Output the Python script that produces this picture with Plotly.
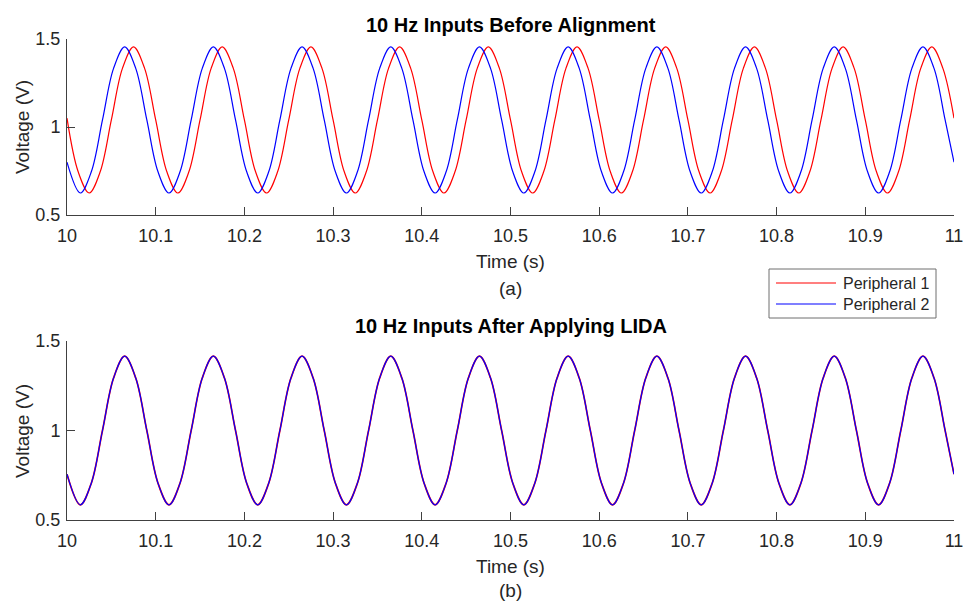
import plotly.graph_objects as go

# ---------------- data ----------------
series_names = ["Peripheral 1", "Peripheral 2"]

# (a) before alignment, Peripheral 1 (red)
t_a_p1 = [10.0000,
          10.0125, 10.0250, 10.0375, 10.0500, 10.0625, 10.0750, 10.0875, 10.1000,
          10.1125, 10.1250, 10.1375, 10.1500, 10.1625, 10.1750, 10.1875, 10.2000,
          10.2125, 10.2250, 10.2375, 10.2500, 10.2625, 10.2750, 10.2875, 10.3000,
          10.3125, 10.3250, 10.3375, 10.3500, 10.3625, 10.3750, 10.3875, 10.4000,
          10.4125, 10.4250, 10.4375, 10.4500, 10.4625, 10.4750, 10.4875, 10.5000,
          10.5125, 10.5250, 10.5375, 10.5500, 10.5625, 10.5750, 10.5875, 10.6000,
          10.6125, 10.6250, 10.6375, 10.6500, 10.6625, 10.6750, 10.6875, 10.7000,
          10.7125, 10.7250, 10.7375, 10.7500, 10.7625, 10.7750, 10.7875, 10.8000,
          10.8125, 10.8250, 10.8375, 10.8500, 10.8625, 10.8750, 10.8875, 10.9000,
          10.9125, 10.9250, 10.9375, 10.9500, 10.9625, 10.9750, 10.9875, 11.0000]
v_a_p1 = [1.05,
          0.747, 0.625, 0.747, 1.04, 1.333, 1.455, 1.333, 1.04,
          0.747, 0.625, 0.747, 1.04, 1.333, 1.455, 1.333, 1.04,
          0.747, 0.625, 0.747, 1.04, 1.333, 1.455, 1.333, 1.04,
          0.747, 0.625, 0.747, 1.04, 1.333, 1.455, 1.333, 1.04,
          0.747, 0.625, 0.747, 1.04, 1.333, 1.455, 1.333, 1.04,
          0.747, 0.625, 0.747, 1.04, 1.333, 1.455, 1.333, 1.04,
          0.747, 0.625, 0.747, 1.04, 1.333, 1.455, 1.333, 1.04,
          0.747, 0.625, 0.747, 1.04, 1.333, 1.455, 1.333, 1.04,
          0.747, 0.625, 0.747, 1.04, 1.333, 1.455, 1.333, 1.04,
          0.747, 0.625, 0.747, 1.04, 1.333, 1.455, 1.333, 1.05]

# (a) before alignment, Peripheral 2 (blue) and (b) both after LIDA share these times
t_p2 = [10.0000,
        10.0150, 10.0275, 10.0400, 10.0525, 10.0650, 10.0775, 10.0900, 10.1025,
        10.1150, 10.1275, 10.1400, 10.1525, 10.1650, 10.1775, 10.1900, 10.2025,
        10.2150, 10.2275, 10.2400, 10.2525, 10.2650, 10.2775, 10.2900, 10.3025,
        10.3150, 10.3275, 10.3400, 10.3525, 10.3650, 10.3775, 10.3900, 10.4025,
        10.4150, 10.4275, 10.4400, 10.4525, 10.4650, 10.4775, 10.4900, 10.5025,
        10.5150, 10.5275, 10.5400, 10.5525, 10.5650, 10.5775, 10.5900, 10.6025,
        10.6150, 10.6275, 10.6400, 10.6525, 10.6650, 10.6775, 10.6900, 10.7025,
        10.7150, 10.7275, 10.7400, 10.7525, 10.7650, 10.7775, 10.7900, 10.8025,
        10.8150, 10.8275, 10.8400, 10.8525, 10.8650, 10.8775, 10.8900, 10.9025,
        10.9150, 10.9275, 10.9400, 10.9525, 10.9650, 10.9775, 10.9900, 11.0000]
v_a_p2 = [0.80,
          0.625, 0.747, 1.04, 1.333, 1.455, 1.333, 1.04, 0.747,
          0.625, 0.747, 1.04, 1.333, 1.455, 1.333, 1.04, 0.747,
          0.625, 0.747, 1.04, 1.333, 1.455, 1.333, 1.04, 0.747,
          0.625, 0.747, 1.04, 1.333, 1.455, 1.333, 1.04, 0.747,
          0.625, 0.747, 1.04, 1.333, 1.455, 1.333, 1.04, 0.747,
          0.625, 0.747, 1.04, 1.333, 1.455, 1.333, 1.04, 0.747,
          0.625, 0.747, 1.04, 1.333, 1.455, 1.333, 1.04, 0.747,
          0.625, 0.747, 1.04, 1.333, 1.455, 1.333, 1.04, 0.747,
          0.625, 0.747, 1.04, 1.333, 1.455, 1.333, 1.04, 0.747,
          0.625, 0.747, 1.04, 1.333, 1.455, 1.333, 1.04, 0.80]

# (b) after applying LIDA: both peripherals coincide
v_b_p1 = [0.756,
          0.585, 0.707, 1.0, 1.293, 1.415, 1.293, 1.0, 0.707,
          0.585, 0.707, 1.0, 1.293, 1.415, 1.293, 1.0, 0.707,
          0.585, 0.707, 1.0, 1.293, 1.415, 1.293, 1.0, 0.707,
          0.585, 0.707, 1.0, 1.293, 1.415, 1.293, 1.0, 0.707,
          0.585, 0.707, 1.0, 1.293, 1.415, 1.293, 1.0, 0.707,
          0.585, 0.707, 1.0, 1.293, 1.415, 1.293, 1.0, 0.707,
          0.585, 0.707, 1.0, 1.293, 1.415, 1.293, 1.0, 0.707,
          0.585, 0.707, 1.0, 1.293, 1.415, 1.293, 1.0, 0.707,
          0.585, 0.707, 1.0, 1.293, 1.415, 1.293, 1.0, 0.707,
          0.585, 0.707, 1.0, 1.293, 1.415, 1.293, 1.0, 0.756]
v_b_p2 = [0.756,
          0.585, 0.707, 1.0, 1.293, 1.415, 1.293, 1.0, 0.707,
          0.585, 0.707, 1.0, 1.293, 1.415, 1.293, 1.0, 0.707,
          0.585, 0.707, 1.0, 1.293, 1.415, 1.293, 1.0, 0.707,
          0.585, 0.707, 1.0, 1.293, 1.415, 1.293, 1.0, 0.707,
          0.585, 0.707, 1.0, 1.293, 1.415, 1.293, 1.0, 0.707,
          0.585, 0.707, 1.0, 1.293, 1.415, 1.293, 1.0, 0.707,
          0.585, 0.707, 1.0, 1.293, 1.415, 1.293, 1.0, 0.707,
          0.585, 0.707, 1.0, 1.293, 1.415, 1.293, 1.0, 0.707,
          0.585, 0.707, 1.0, 1.293, 1.415, 1.293, 1.0, 0.707,
          0.585, 0.707, 1.0, 1.293, 1.415, 1.293, 1.0, 0.756]

x_ticks = [10, 10.1, 10.2, 10.3, 10.4, 10.5, 10.6, 10.7, 10.8, 10.9, 11]
x_tick_labels = ["10", "10.1", "10.2", "10.3", "10.4", "10.5", "10.6", "10.7", "10.8", "10.9", "11"]
y_ticks = [0.5, 1, 1.5]
y_tick_labels = ["0.5", "1", "1.5"]

title_a = "10 Hz Inputs Before Alignment"
title_b = "10 Hz Inputs After Applying LIDA"
x_title = "Time (s)"
y_title = "Voltage (V)"
caption_a = "(a)"
caption_b = "(b)"

# ---------------- figure ----------------
W, H = 963, 601
FONT = "Liberation Sans, Arial, Helvetica, sans-serif"
RED = "#ff0000"
BLUE = "#0000ff"
AX = "#404040"
TXT = "#262626"


def px_x(p):
    return p / W


def px_y(p):
    return 1 - p / H


fig = go.Figure()

line_kw = dict(mode="lines", line_shape="spline", showlegend=False, hoverinfo="x+y")
fig.add_trace(go.Scatter(x=t_a_p1, y=v_a_p1, name=series_names[0], xaxis="x", yaxis="y",
                         line=dict(color=RED, width=1.2), **line_kw))
fig.add_trace(go.Scatter(x=t_p2, y=v_a_p2, name=series_names[1], xaxis="x", yaxis="y",
                         line=dict(color=BLUE, width=1.2), **line_kw))
fig.add_trace(go.Scatter(x=t_p2, y=v_b_p1, name=series_names[0], xaxis="x2", yaxis="y2",
                         line=dict(color=RED, width=1.7), **line_kw))
fig.add_trace(go.Scatter(x=t_p2, y=v_b_p2, name=series_names[1], xaxis="x2", yaxis="y2",
                         line=dict(color=BLUE, width=1.2), **line_kw))

xdom = [px_x(67), px_x(954)]
axis_common = dict(showline=True, linecolor=AX, linewidth=1, ticks="inside", ticklen=8,
                   tickcolor=AX, tickwidth=1, showgrid=False, zeroline=False, automargin=False,
                   ticklabeloverflow="allow",
                   tickfont=dict(family=FONT, size=18, color=TXT), mirror=False)

fig.update_layout(
    template="none",
    width=W, height=H, autosize=False,
    margin=dict(l=0, r=0, t=0, b=0, pad=0),
    paper_bgcolor="white", plot_bgcolor="white",
    xaxis=dict(domain=xdom, range=[10, 11], anchor="y", tickvals=x_ticks, ticktext=x_tick_labels,
               ticklabelstandoff=4, **axis_common),
    yaxis=dict(domain=[px_y(215), px_y(39)], range=[0.5, 1.5], anchor="x", tickvals=y_ticks, ticktext=y_tick_labels,
               ticklabelstandoff=2, **axis_common),
    xaxis2=dict(domain=xdom, range=[10, 11], anchor="y2", tickvals=x_ticks, ticktext=x_tick_labels,
                ticklabelstandoff=4, **axis_common),
    yaxis2=dict(domain=[px_y(520), px_y(341)], range=[0.5, 1.5], anchor="x2", tickvals=y_ticks, ticktext=y_tick_labels,
                ticklabelstandoff=2, **axis_common),
    showlegend=False,
)

# legend box (drawn like the MATLAB legend)
fig.add_shape(type="rect", xref="paper", yref="paper",
              x0=px_x(769), x1=px_x(936), y0=px_y(318), y1=px_y(269),
              line=dict(color="#6e6e6e", width=1), fillcolor="white", layer="above")
for name, col, ypx in [(series_names[0], RED, 283), (series_names[1], BLUE, 304)]:
    fig.add_shape(type="line", xref="paper", yref="paper",
                  x0=px_x(776), x1=px_x(836), y0=px_y(ypx), y1=px_y(ypx),
                  line=dict(color=col, width=1.2), layer="above")
    fig.add_annotation(text=name, x=px_x(841), y=px_y(ypx), xref="paper", yref="paper",
                       xanchor="left", yanchor="middle", showarrow=False,
                       font=dict(family=FONT, size=16, color=TXT))

xc = (67 + 954) / 2
ann = [
    (title_a, xc, 25, 20, True, 0),
    (title_b, xc, 326, 20, True, 0),
    (x_title, xc, 261, 19, False, 0),
    (x_title, xc, 566, 19, False, 0),
    (caption_a, xc, 288, 19, False, 0),
    (caption_b, xc, 590, 19, False, 0),
    (y_title, 22, 127, 19, False, -90),
    (y_title, 22, 431, 19, False, -90),
]
for text, x, y, size, bold, ang in ann:
    fig.add_annotation(text=("<b>%s</b>" % text) if bold else text, x=px_x(x), y=px_y(y),
                       xref="paper", yref="paper", xanchor="center", yanchor="middle",
                       showarrow=False, textangle=ang,
                       font=dict(family=FONT, size=size, color="#000000" if bold else TXT))

fig.write_html("out.html", config={"displayModeBar": False},
               post_script="document.body.style.margin='0px';")
